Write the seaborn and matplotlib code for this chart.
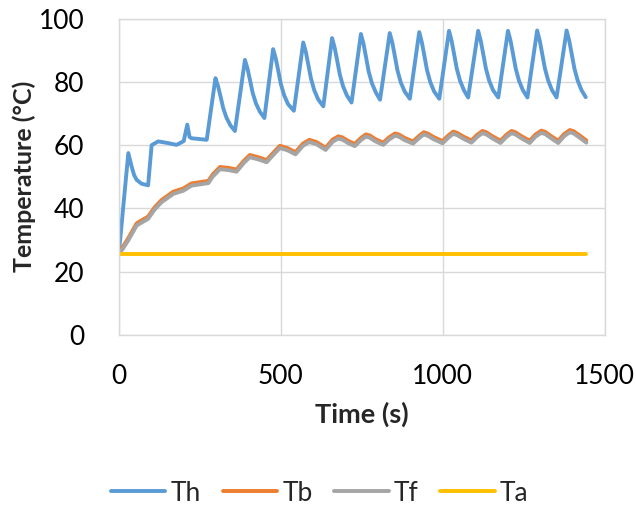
import seaborn as sns
import matplotlib.pyplot as plt
import pandas as pd

# Valores
th_time = [0, 29, 39, 47, 55, 70, 90, 101, 121, 150, 178, 200, 211, 218, 224, 271,
           298, 306, 313, 322, 332, 344, 358,
           389, 397, 404, 413, 423, 435, 449,
           476, 484, 491, 500, 510, 522, 540,
           569, 577, 584, 593, 603, 615, 631,
           658, 666, 673, 682, 692, 704, 718,
           747, 755, 762, 771, 781, 793, 806,
           836, 844, 851, 860, 870, 882, 898,
           927, 935, 942, 951, 961, 973, 989,
           1019, 1027, 1034, 1043, 1053, 1065, 1078,
           1109, 1117, 1124, 1133, 1143, 1155, 1171,
           1201, 1209, 1216, 1225, 1235, 1247, 1261,
           1291, 1299, 1306, 1315, 1325, 1337, 1351,
           1382, 1390, 1397, 1406, 1416, 1428, 1441]
th_temp = [26, 57.5, 53.3, 50.5, 49, 47.8, 47.3, 60, 61.2, 60.7, 60.1, 61.3, 66.5, 62.6, 62.2, 61.7,
           81.2, 78.7, 75.7, 71.7, 68.7, 66.3, 64.5,
           87, 84.2, 80.9, 76.5, 73.2, 70.6, 68.6,
           90.4, 87.5, 84, 79.3, 75.8, 73, 70.9,
           92.5, 89.5, 85.8, 81, 77.4, 74.5, 72.3,
           93.9, 90.8, 87.2, 82.3, 78.6, 75.7, 73.5,
           95.2, 92.1, 88.3, 83.3, 79.6, 76.7, 74.4,
           95.5, 92.4, 88.6, 83.6, 79.9, 77, 74.7,
           95.8, 92.6, 88.8, 83.8, 80, 77, 74.7,
           96.2, 93, 89.2, 84.2, 80.4, 77.4, 75.1,
           96.2, 93, 89.2, 84.2, 80.4, 77.4, 75.1,
           96.2, 93, 89.2, 84.2, 80.4, 77.4, 75.1,
           96.3, 93.1, 89.3, 84.3, 80.5, 77.4, 75.1,
           96.3, 93.1, 89.3, 84.3, 80.5, 77.4, 75.2]

tb_time = [0, 10, 29, 55, 90, 110, 131, 168, 199, 224, 276, 290, 312, 340, 363,
           385, 404, 430, 456, 480, 497, 520, 545, 568, 588, 610, 638,
           660, 677, 689, 707, 728, 746, 762, 774, 792, 816, 834, 852, 864, 882, 908,
           926, 941, 953, 971, 999, 1017, 1032, 1044, 1062, 1088, 1106, 1122, 1134, 1152, 1178,
           1196, 1212, 1224, 1242, 1268, 1286, 1304, 1316, 1334, 1356, 1374, 1392, 1404, 1422, 1443]
tb_temp = [26, 27.5, 30.6, 35.3, 37.4, 40.3, 42.6, 45.3, 46.3, 47.9, 48.7, 50.8, 53.1, 52.8, 52.3,
           55, 56.9, 56.2, 55.3, 58, 59.8, 59.1, 57.8, 60.5, 61.7, 61, 59.2,
           61.8, 62.8, 62.5, 61.4, 60.4, 62.2, 63.4, 63.1, 61.9, 60.8, 62.5, 63.7, 63.4, 62.3, 61.2,
           62.9, 64.1, 63.7, 62.6, 61.3, 63.1, 64.3, 63.9, 62.8, 61.5, 63.3, 64.5, 64.1, 62.9, 61.4,
           63.3, 64.5, 64.1, 62.9, 61.4, 63.4, 64.6, 64.2, 62.9, 61.4, 63.5, 64.8, 64.4, 63.1, 61.5]
tf_temp = [25.8, 26.9, 29.9, 34.6, 36.7, 39.6, 41.9, 44.6, 45.6, 47.2, 48, 50.1, 52.4, 52.1, 51.6,
           54.3, 56.2, 55.5, 54.6, 57.3, 59.1, 58.4, 57.1, 59.8, 61, 60.3, 58.5,
           61.1, 62.1, 61.8, 60.7, 59.7, 61.5, 62.7, 62.4, 61.2, 60.1, 61.8, 63, 62.7, 61.6, 60.5,
           62.2, 63.4, 63, 61.9, 60.6, 62.4, 63.6, 63.2, 62.1, 60.8, 62.6, 63.8, 63.4, 62.2, 60.7,
           62.6, 63.8, 63.4, 62.2, 60.7, 62.7, 63.9, 63.5, 62.2, 60.7, 62.8, 64.1, 63.7, 62.4, 60.8]

ta_time = [0, 1443]
ta_temp = [25.6, 25.6]

series = ['Th', 'Tb', 'Tf', 'Ta']
colors = ['#5B9BD5', '#ED7D31', '#A5A5A5', '#FFC000']

df = pd.concat([
    pd.DataFrame({'Time': th_time, 'Temp': th_temp, 'Serie': 'Th'}),
    pd.DataFrame({'Time': tb_time, 'Temp': tb_temp, 'Serie': 'Tb'}),
    pd.DataFrame({'Time': tb_time, 'Temp': tf_temp, 'Serie': 'Tf'}),
    pd.DataFrame({'Time': ta_time, 'Temp': ta_temp, 'Serie': 'Ta'}),
])

sns.set_style('white')
plt.rcParams['font.family'] = ['Lato', 'DejaVu Sans']

fig = plt.figure(figsize=(6.36, 5.08), dpi=100)
ax = fig.add_axes([0.187, 0.341, 0.764, 0.622])

sns.lineplot(data=df, x='Time', y='Temp', hue='Serie', hue_order=series,
             palette=colors, estimator=None, sort=False, linewidth=2.8, ax=ax)

ax.set_xlim(0, 1500)
ax.set_ylim(0, 100)
ax.set_xticks([0, 500, 1000, 1500])
ax.set_yticks([0, 20, 40, 60, 80, 100])
ax.grid(True, color='#D9D9D9', linewidth=1)
for s in ax.spines.values():
    s.set_color('#D9D9D9')
    s.set_linewidth(1)
ax.tick_params(axis='both', length=0, labelsize=19, colors='black')
ax.tick_params(axis='x', pad=21)
ax.tick_params(axis='y', pad=25)
ax.set_xlabel('Time (s)', fontsize=19.5, fontweight='bold', labelpad=9)
ax.set_ylabel('Temperature (°C)', fontsize=18, fontweight='bold', labelpad=2)

ax.legend_.remove()
handles, labels = ax.get_legend_handles_labels()
fig.legend(handles, labels, loc='center', bbox_to_anchor=(0.503, 0.0295), ncol=4,
           frameon=False, fontsize=19, handlelength=2.05, columnspacing=0.83,
           handletextpad=0.2)

plt.savefig('out.png', dpi=100)
